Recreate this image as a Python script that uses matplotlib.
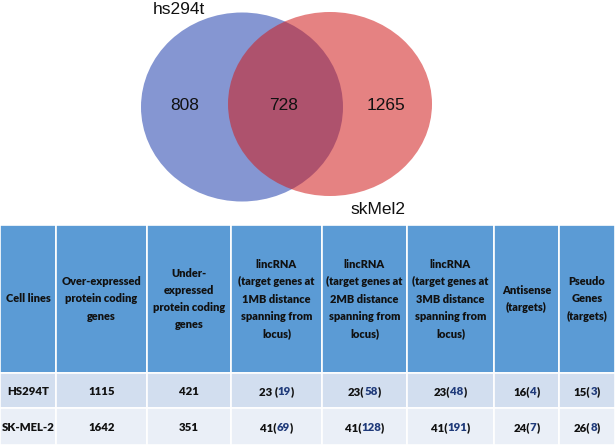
import re
import matplotlib
matplotlib.use('Agg')
import matplotlib.pyplot as plt
from matplotlib.patches import Ellipse, Rectangle

# venn data
set_names = ['hs294t', 'skMel2']
venn_counts = [808, 728, 1265]   # only hs294t, both, only skMel2

# table data
headers = ['Cell lines',
           'Over-expressed\nprotein coding\ngenes',
           'Under-\nexpressed\nprotein coding\ngenes',
           'lincRNA\n(target genes at\n1MB distance\nspanning from\nlocus)',
           'lincRNA\n(target genes at\n2MB distance\nspanning from\nlocus)',
           'lincRNA\n(target genes at\n3MB distance\nspanning from\nlocus)',
           'Antisense\n(targets)',
           'Pseudo\nGenes\n(targets)']
cell_lines = ['HS294T', 'SK-MEL-2']
over_expr = ['1115', '1642']
under_expr = ['421', '351']
linc_1mb = ['23 (19)', '41(69)']
linc_2mb = ['23(58)', '41(128)']
linc_3mb = ['23(48)', '41(191)']
antisense = ['16(4)', '24(7)']
pseudo = ['15(3)', '26(8)']

table_cols = [cell_lines, over_expr, under_expr, linc_1mb, linc_2mb, linc_3mb, antisense, pseudo]

W, H = 615, 445
fig = plt.figure(figsize=(W / 100, H / 100), dpi=100)
ax = fig.add_axes([0, 0, 1, 1])
ax.set_xlim(0, W)
ax.set_ylim(H, 0)
ax.axis('off')

# --- venn
blue = (33/255, 64/255, 173/255)
red = (209/255, 27/255, 27/255)
ax.add_patch(Ellipse((242, 107), 202, 189, fc=blue, ec='none', alpha=0.55))
ax.add_patch(Ellipse((330, 104), 204, 184, fc=red, ec='none', alpha=0.55))

vfont = dict(family='Liberation Sans', fontsize=12.5, color='#111111', va='center', ha='center')
ax.text(185, 106, str(venn_counts[0]), **vfont)
ax.text(284, 105, str(venn_counts[1]), **vfont)
ax.text(386, 106, str(venn_counts[2]), **vfont)
ax.text(179, 9, set_names[0], **vfont)
ax.text(378, 209, set_names[1], **vfont)

# --- table
col_x = [0, 56, 147, 231, 322, 407, 494, 559, 615]
row_y = [225, 373, 408, 445]
row_colors = ['#5B9BD5', '#D2DEEF', '#EAEFF7']
navy = '#1F3A7A'
tfont = dict(family=['Lato', 'DejaVu Sans'], fontweight=800)

for r in range(3):
    for c in range(8):
        ax.add_patch(Rectangle((col_x[c], row_y[r]), col_x[c + 1] - col_x[c],
                               row_y[r + 1] - row_y[r], fc=row_colors[r],
                               ec='white', lw=1.2))

renderer = fig.canvas.get_renderer()


def rich_text(x, y, s, size):
    # split "23(58)" into black/navy/black parts, centred as a whole
    m = re.match(r'^(.*\()(\d+)(\))$', s)
    parts = [(s, '#111111')] if m is None else [(m.group(1), '#111111'), (m.group(2), navy), (m.group(3), '#111111')]
    texts = [ax.text(0, y, p, color=col, fontsize=size, ha='left', va='center', **tfont)
             for p, col in parts]
    widths = [t.get_window_extent(renderer).width for t in texts]
    pos = x - sum(widths) / 2
    for t, w in zip(texts, widths):
        t.set_x(pos)
        pos += w


for c in range(8):
    cx = (col_x[c] + col_x[c + 1]) / 2
    ax.text(cx, (row_y[0] + row_y[1]) / 2, headers[c], ha='center', va='center',
            fontsize=7.9, linespacing=1.68, color='#111111', **tfont)
    for r in range(2):
        rich_text(cx, (row_y[r + 1] + row_y[r + 2]) / 2 + 1, table_cols[c][r], 8.2)

fig.savefig('out.png', dpi=100)
